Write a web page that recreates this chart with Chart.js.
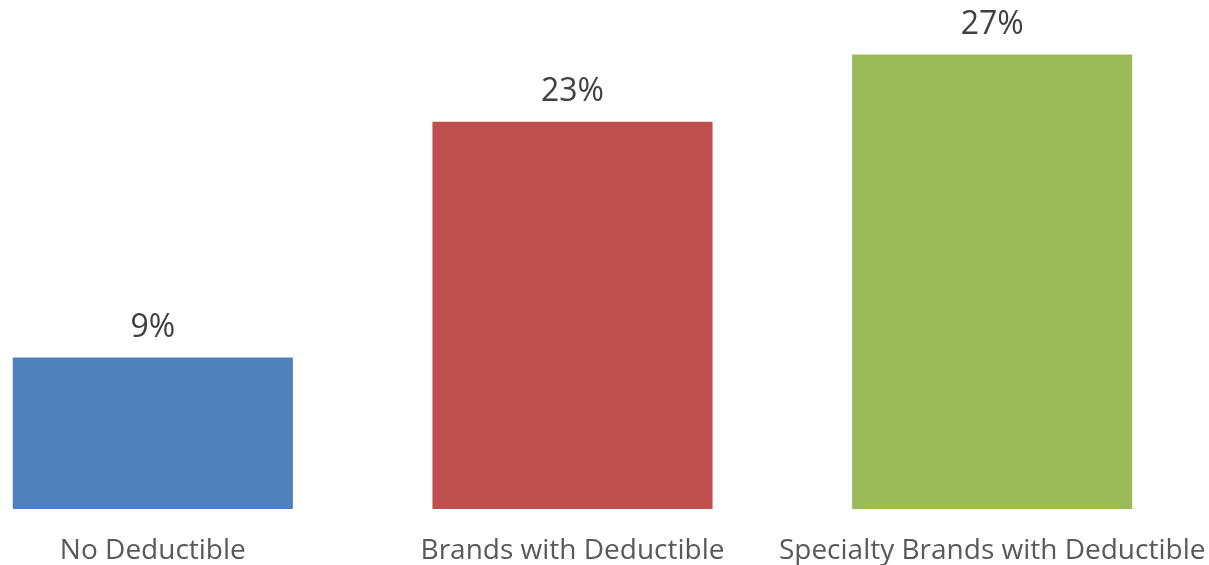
<!DOCTYPE html>
<html>
<head>
<meta charset="utf-8">
<script src="https://cdn.jsdelivr.net/npm/chart.js@4/dist/chart.umd.min.js"></script>
<style>
  html, body { margin: 0; padding: 0; background: #fff; overflow: hidden; width: 1209px; height: 565px; }
  #wrap { position: absolute; left: -57px; top: 0; width: 1299px; height: 565px; }
</style>
</head>
<body>
<div id="wrap"><canvas id="c"></canvas></div>
<script>
const categories = ["No Deductible", "Brands with Deductible", "Specialty Brands with Deductible"];
const values = [9, 23, 27];
const barColors = ["#4F81BD", "#C0504D", "#9BBB59"];

const valueLabels = {
  id: 'valueLabels',
  afterDatasetsDraw(chart) {
    const ctx = chart.ctx;
    const meta = chart.getDatasetMeta(0);
    ctx.save();
    ctx.font = '32px "Open Sans"';
    ctx.fillStyle = '#404040';
    ctx.textAlign = 'center';
    ctx.textBaseline = 'alphabetic';
    meta.data.forEach((bar, i) => {
      ctx.fillText(values[i] + '%', bar.x, bar.y - 21);
    });
    ctx.restore();
  }
};

new Chart(document.getElementById('c'), {
  type: 'bar',
  data: {
    labels: categories,
    datasets: [{
      data: values,
      backgroundColor: barColors,
      borderWidth: 0,
      barPercentage: 0.6675,
      categoryPercentage: 1.0
    }]
  },
  options: {
    responsive: true,
    maintainAspectRatio: false,
    animation: false,
    layout: { padding: { top: 4, left: 0, right: 40, bottom: 0 } },
    plugins: { legend: { display: false }, tooltip: { enabled: false } },
    scales: {
      x: {
        grid: { display: false, drawTicks: false },
        border: { display: false },
        ticks: { color: '#595959', font: { family: '"Open Sans"', size: 28 }, padding: 25, maxRotation: 0, autoSkip: false },
        afterFit(scale) { scale.height = 56; }
      },
      y: {
        display: false,
        min: 0,
        max: 30
      }
    }
  },
  plugins: [valueLabels]
});
</script>
</body>
</html>
